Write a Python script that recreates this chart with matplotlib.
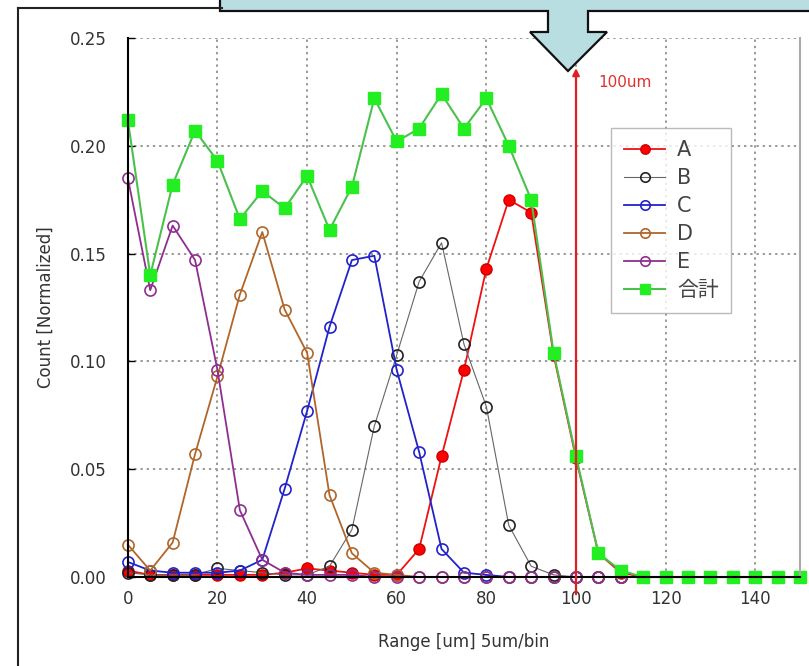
import matplotlib
matplotlib.use("Agg")
from matplotlib import pyplot as plt
from matplotlib.patches import Polygon
from matplotlib.lines import Line2D

bins = list(range(0, 155, 5))

a_vals = [0.003, 0.001, 0.001, 0.001, 0.001, 0.001, 0.001, 0.002, 0.004, 0.003, 0.002,
          0.001, 0.001, 0.013, 0.056, 0.096, 0.143, 0.175, 0.169, 0.103, 0.055, 0.011,
          0.002, 0, 0, 0, 0, 0, 0, 0, 0]
b_vals = [0.002, 0.001, 0.001, 0.001, 0.004, 0.003, 0.002, 0.001, 0.001, 0.005, 0.022,
          0.070, 0.103, 0.137, 0.155, 0.108, 0.079, 0.024, 0.005, 0.001, 0,
          0, 0, 0, 0, 0, 0, 0, 0, 0, 0]
c_vals = [0.007, 0.003, 0.002, 0.002, 0.002, 0.003, 0.008, 0.041, 0.077, 0.116, 0.147,
          0.149, 0.096, 0.058, 0.013, 0.002, 0.001,
          0, 0, 0, 0, 0, 0, 0, 0, 0, 0, 0, 0, 0, 0]
d_vals = [0.015, 0.003, 0.016, 0.057, 0.093, 0.131, 0.160, 0.124, 0.104, 0.038, 0.011,
          0.002, 0.001,
          0, 0, 0, 0, 0, 0, 0, 0, 0, 0, 0, 0, 0, 0, 0, 0, 0, 0]
e_vals = [0.185, 0.133, 0.163, 0.147, 0.096, 0.031, 0.008, 0.002, 0.001, 0.001, 0.001,
          0, 0, 0, 0, 0, 0, 0, 0, 0, 0, 0, 0, 0, 0, 0, 0, 0, 0, 0, 0]
total_vals = [0.212, 0.140, 0.182, 0.207, 0.193, 0.166, 0.179, 0.171, 0.186, 0.161, 0.181,
              0.222, 0.202, 0.208, 0.224, 0.208, 0.222, 0.200, 0.175, 0.104, 0.056, 0.011,
              0.003, 0, 0, 0, 0, 0, 0, 0, 0]

plt.rcParams['font.family'] = ['DejaVu Sans', 'Noto Sans CJK JP']

fig = plt.figure(figsize=(8.09, 6.66), dpi=100)
ax = fig.add_axes([0.158, 0.1336, 0.831, 0.8094])

ax.plot(bins, a_vals, '-o', color='#ee1111', mfc='#ff0000', mec='#cc0000', ms=8,
        lw=1.3, label='A', clip_on=False)
ax.plot(bins, b_vals, '-o', color='#666666', mfc='none', mec='#222222', ms=8,
        mew=1.2, lw=0.8, label='B', clip_on=False)
ax.plot(bins, c_vals, '-o', color='#2222cc', mfc='none', mec='#2222cc', ms=8,
        mew=1.2, lw=1.3, label='C', clip_on=False)
ax.plot(bins, d_vals, '-o', color='#b0662a', mfc='none', mec='#b0662a', ms=8,
        mew=1.2, lw=1.3, label='D', clip_on=False)
ax.plot(bins, e_vals, '-o', color='#8e2e8e', mfc='none', mec='#8e2e8e', ms=8,
        mew=1.2, lw=1.3, label='E', clip_on=False)
ax.plot(bins, total_vals, '-s', color='#4cc04c', mfc='#22ee22', mec='#22ee22', ms=8,
        lw=1.5, label='合計', clip_on=False)

ax.set_xlim(0, 150)
ax.set_ylim(0, 0.25)
ax.set_xticks([0, 20, 40, 60, 80, 100, 120, 140])
ax.set_yticks([0, 0.05, 0.10, 0.15, 0.20, 0.25])
ax.set_yticklabels(['0.00', '0.05', '0.10', '0.15', '0.20', '0.25'])
ax.tick_params(direction='in', length=5, width=1, colors='#000000',
               labelcolor='#333333', labelsize=12)
ax.tick_params(axis='x', length=0, pad=9)
ax.tick_params(axis='y', pad=15)
ax.grid(True, color='#999999', linestyle=(0, (1.2, 2)), linewidth=1.4)
ax.set_axisbelow(True)

ax.spines['top'].set_visible(False)
ax.spines['right'].set_color('#aaaaaa')
ax.spines['right'].set_linewidth(1.5)
ax.spines['left'].set_linewidth(1.5)
ax.spines['bottom'].set_linewidth(1.5)

ax.set_xlabel('Range [um] 5um/bin', fontsize=12, color='#333333', labelpad=18)
ax.set_ylabel('Count [Normalized]', fontsize=12, color='#333333', labelpad=11)

# 100um marker
ax.annotate('', xy=(100, 0.236), xytext=(100, -0.008),
            arrowprops=dict(arrowstyle='-|>', color='#e02020', lw=1.6,
                            mutation_scale=10, shrinkA=0, shrinkB=0),
            annotation_clip=False)
ax.text(105, 0.2295, '100um', color='#e03030', fontsize=11, va='center', ha='left')

leg = ax.legend(loc='upper left', bbox_to_anchor=(0.719, 0.833), borderaxespad=0,
                fontsize=15, frameon=True, fancybox=False, handlelength=2.0,
                labelspacing=0.38, handletextpad=0.55, borderpad=0.6, markerscale=0.85)
leg.get_frame().set_edgecolor('#aaaaaa')
leg.get_frame().set_linewidth(1.0)
for t in leg.get_texts():
    t.set_color('#444444')

# outer frame lines
W, H = 809.0, 666.0
fig.add_artist(Line2D([18 / W, 18 / W], [0, 1 - 8 / H], color='#222222', lw=1.5))
fig.add_artist(Line2D([18 / W, 222 / W], [1 - 8 / H, 1 - 8 / H], color='#222222', lw=1.5))

# callout box with arrow
pts = [(220, -2), (220, 11), (548, 11), (548, 32), (530, 32), (568, 71), (607, 32),
       (588, 32), (588, 11), (812, 11), (812, -2)]
poly = Polygon([(x / W, 1 - y / H) for x, y in pts], closed=True,
               transform=fig.transFigure, facecolor='#b9dee1', edgecolor='#111111',
               lw=1.6, clip_on=False)
fig.add_artist(poly)

fig.savefig('out.png', dpi=100)
